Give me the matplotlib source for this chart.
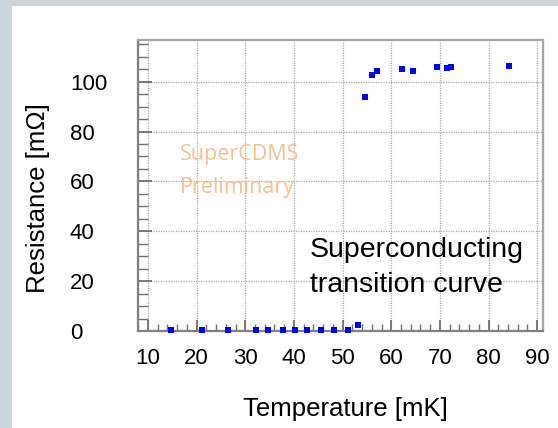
import matplotlib
matplotlib.use("Agg")
import matplotlib.pyplot as plt
from matplotlib.patches import Rectangle
from matplotlib.ticker import MultipleLocator

# ---- data ----
temperature_mK = [14.7, 21.0, 26.5, 32.1, 34.7, 37.7, 40.2, 42.7, 45.5, 48.3, 51.1, 53.2,
                  54.7, 56.0, 57.1, 62.3, 64.5, 69.4, 71.5, 72.3, 84.3]
resistance_mohm = [0.3, 0.3, 0.3, 0.3, 0.3, 0.3, 0.3, 0.3, 0.3, 0.3, 0.3, 2.3,
                   93.8, 102.7, 104.2, 105.0, 104.4, 105.8, 105.5, 105.8, 106.3]
x_ticks = [10, 20, 30, 40, 50, 60, 70, 80, 90]
y_ticks = [0, 20, 40, 60, 80, 100]
x_label = "Temperature [mK]"
y_label = "Resistance [mΩ]"
annotation = ["Superconducting", "transition curve"]
watermark = ["SuperCDMS", "Preliminary"]

plt.rcParams['font.family'] = ['Liberation Sans', 'DejaVu Sans']

fig = plt.figure(figsize=(5.58, 4.28), dpi=100)
fig.patch.set_facecolor('#cbd6dc')
fig.patches.append(Rectangle((11.5 / 558, 0), 1, (428 - 6) / 428,
                             transform=fig.transFigure, facecolor='white',
                             edgecolor='none', zorder=-5))

ax = fig.add_axes([138 / 558, 1 - 331 / 428, (543 - 138) / 558, (331 - 40) / 428])
ax.set_zorder(2)
ax.set_facecolor('white')

ax.plot(temperature_mK, resistance_mohm, linestyle='none', marker='s',
        markersize=4.6, color='#0000ff', markeredgewidth=0, clip_on=False, zorder=5)

ax.set_xlim(7.94, 91.2)
ax.set_ylim(0, 116.7)
ax.set_xticks(x_ticks)
ax.set_yticks(y_ticks)
ax.xaxis.set_minor_locator(MultipleLocator(2))
ax.yaxis.set_minor_locator(MultipleLocator(5))

ax.grid(True, which='major', linestyle=(0, (1, 1)), color='#aaaaaa', linewidth=0.9)

for s in ax.spines.values():
    s.set_color('#a6a6a6')
    s.set_linewidth(1.6)
ax.spines['left'].set_color('#808080')
ax.spines['bottom'].set_color('#808080')

ax.tick_params(axis='both', which='both', direction='in', color='#707070',
               top=False, right=False)
ax.tick_params(axis='x', which='major', length=8, width=1.3, pad=12, labelsize=16)
ax.tick_params(axis='x', which='minor', length=5, width=1.0)
ax.tick_params(axis='y', which='major', length=10, width=1.3, pad=49, labelsize=16)
ax.tick_params(axis='y', which='minor', length=7, width=1.0)
for lbl in ax.get_yticklabels():
    lbl.set_horizontalalignment('left')

ax.set_xlabel(x_label, fontsize=18.5)
ax.xaxis.set_label_coords(0.511, -0.227)
ax.set_ylabel(y_label, fontsize=18.5)
ax.yaxis.set_label_coords(-0.217, 0.457)

ax.text(0.4247, 0.2553, annotation[0], transform=ax.transAxes, fontsize=20.5,
        va='baseline', ha='left', color='black')
ax.text(0.4247, 0.135, annotation[1], transform=ax.transAxes, fontsize=20.5,
        va='baseline', ha='left', color='black')

ax.text(0.1037, 0.5876, watermark[0], transform=ax.transAxes, fontsize=15.5,
        family='Open Sans', va='baseline', ha='left', color='#f9c08a')
ax.text(0.1037, 0.474, watermark[1], transform=ax.transAxes, fontsize=15.5,
        family='Open Sans', va='baseline', ha='left', color='#f9c08a')

fig.savefig('out.png', dpi=100, facecolor=fig.get_facecolor())
